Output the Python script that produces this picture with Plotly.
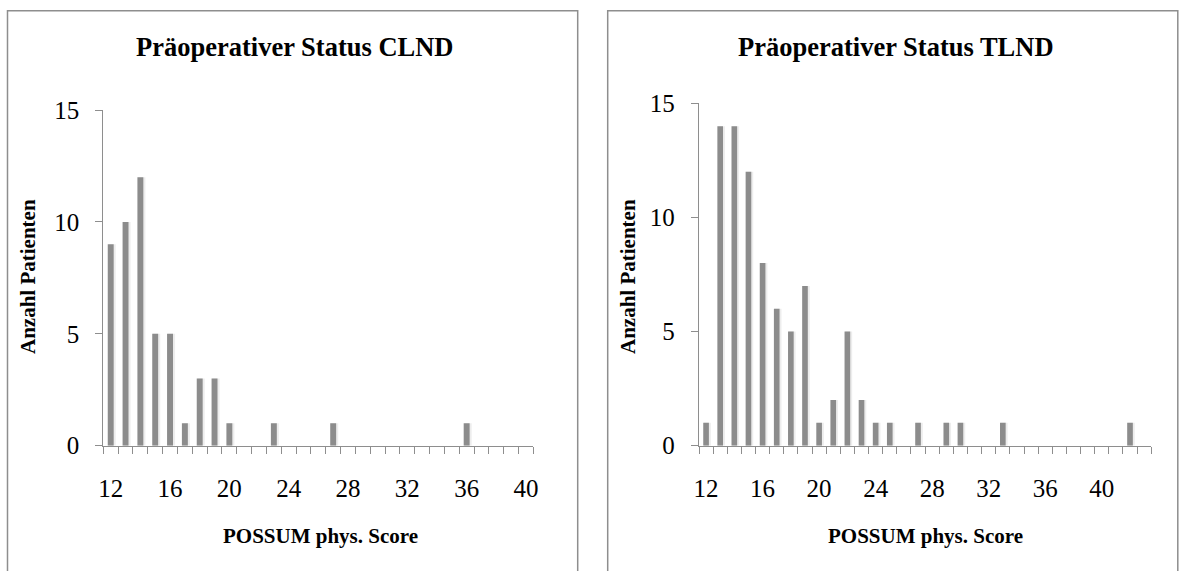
import plotly.graph_objects as go

# ---- data ----
clnd_scores = [12, 13, 14, 15, 16, 17, 18, 19, 20, 23, 27, 36]
clnd_counts = [9, 10, 12, 5, 5, 1, 3, 3, 1, 1, 1, 1]

tlnd_scores = [12, 13, 14, 15, 16, 17, 18, 19, 20, 21, 22, 23, 24, 25, 27, 29, 30, 33, 42]
tlnd_counts = [1, 14, 14, 12, 8, 6, 5, 7, 1, 2, 5, 2, 1, 1, 1, 1, 1, 1, 1]

x_tick_vals = [12, 16, 20, 24, 28, 32, 36, 40]
y_tick_vals = [0, 5, 10, 15]

title_left = "Präoperativer Status CLND"
title_right = "Präoperativer Status TLND"
x_title = "POSSUM phys. Score"
y_title = "Anzahl Patienten"

W, H = 1179, 571
FONT = "Liberation Serif"
BAR = "#8c8c8c"
AX = "#8e8e8e"
BW = 0.4

def px(x):
    return x / W

def py(y):
    return (H - y) / H

fig = go.Figure()
for xs, ys, xa, ya in [(clnd_scores, clnd_counts, "x", "y"), (tlnd_scores, tlnd_counts, "x2", "y2")]:
    # soft shadow
    fig.add_trace(go.Bar(x=xs, y=ys, width=BW + 0.08, offset=-BW / 2 + 0.06,
                         marker=dict(color="rgba(0,0,0,0.07)", line=dict(width=0)),
                         xaxis=xa, yaxis=ya, showlegend=False, hoverinfo="skip"))
    fig.add_trace(go.Bar(x=xs, y=ys, width=BW, offset=-BW / 2,
                         marker=dict(color=BAR, line=dict(width=0)),
                         xaxis=xa, yaxis=ya, showlegend=False))

def xaxis(domain, rng, anchor):
    return dict(domain=domain, range=rng, anchor=anchor, showgrid=False, zeroline=False,
                automargin=False,
                showline=True, linecolor=AX, linewidth=1.3,
                tickmode="array", tickvals=x_tick_vals, ticks="",
                ticklabelstandoff=20,
                tickfont=dict(family=FONT, size=25, color="black"),
                minor=dict(tickmode="linear", tick0=11.5, dtick=1, ticks="outside",
                           ticklen=7, tickwidth=1.3, tickcolor=AX, showgrid=False),
                fixedrange=True)

def yaxis(domain, anchor):
    return dict(domain=domain, range=[0, 15], anchor=anchor, showgrid=False, zeroline=False,
                automargin=False,
                showline=True, linecolor=AX, linewidth=1.3,
                tickmode="array", tickvals=y_tick_vals, ticks="outside",
                ticklen=7, tickwidth=1.3, tickcolor=AX,
                ticklabelstandoff=11,
                tickfont=dict(family=FONT, size=25, color="black"),
                fixedrange=True)

def ann(text, x, y, size, angle=0):
    return dict(text=f"<b>{text}</b>", x=px(x), y=py(y), xref="paper", yref="paper",
                xanchor="center", yanchor="middle", showarrow=False, textangle=angle,
                font=dict(family=FONT, size=size, color="black"))

fig.update_layout(
    width=W, height=H,
    margin=dict(l=0, r=0, t=0, b=0, pad=0, autoexpand=False),
    paper_bgcolor="white", plot_bgcolor="white",
    barmode="overlay",
    xaxis=xaxis([px(103.3), px(533.4)], [11.5, 40.5], "y"),
    yaxis=yaxis([py(445.7), py(110)], "x"),
    xaxis2=xaxis([px(699), px(1151.2)], [11.5, 43.5], "y2"),
    yaxis2=yaxis([py(445.7), py(103.3)], "x2"),
    shapes=[
        dict(type="rect", xref="paper", yref="paper", x0=px(7.5), x1=px(577.7),
             y0=-0.1, y1=py(10.7), line=dict(color=AX, width=1.5)),
        dict(type="rect", xref="paper", yref="paper", x0=px(607.7), x1=px(1177.8),
             y0=-0.1, y1=py(10.7), line=dict(color=AX, width=1.5)),
    ],
    annotations=[
        ann(title_left, 294.5, 47, 26.5),
        ann(title_right, 896, 47, 26.5),
        ann(x_title, 320.6, 536, 21),
        ann(x_title, 925, 536, 21),
        ann(y_title, 28, 277, 21, -90),
        ann(y_title, 628, 277, 21, -90),
    ],
)

fig.write_html("out.html", config={"displayModeBar": False},
               post_script="document.body.style.margin='0';document.body.style.overflow='hidden';")
